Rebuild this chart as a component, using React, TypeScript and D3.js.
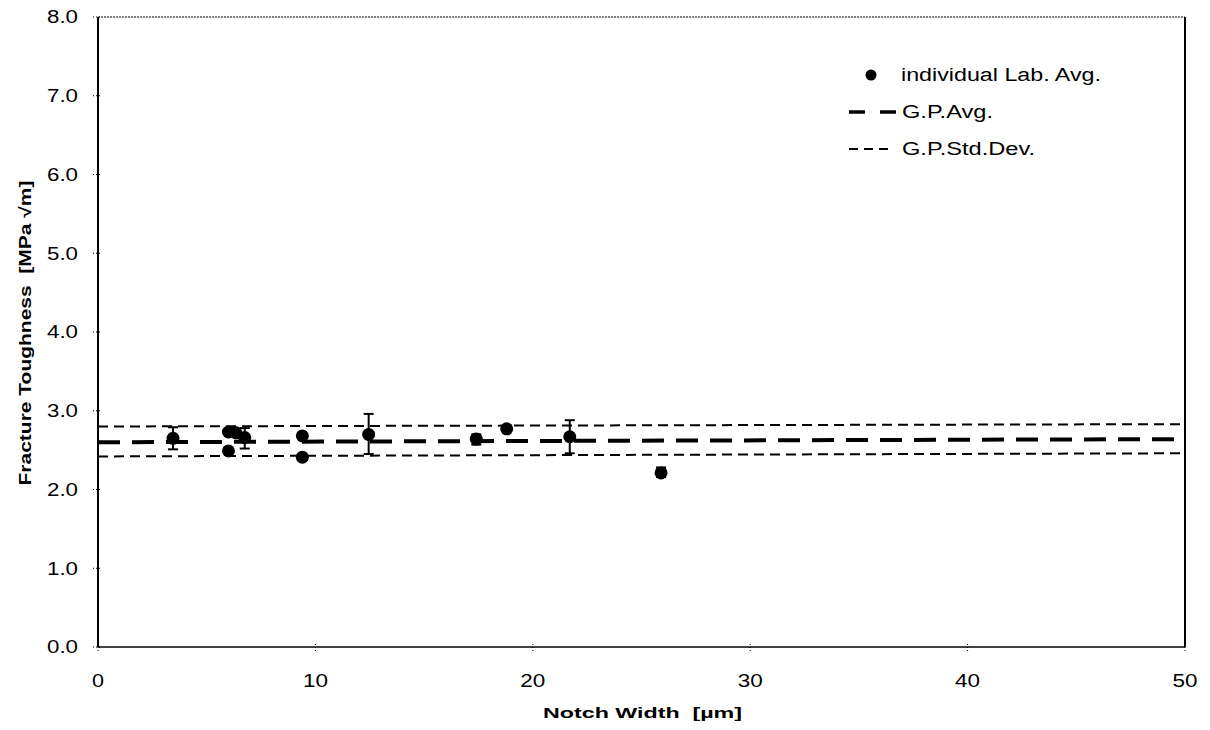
import React from "react";
import * as d3 from "d3";

const notchWidth = [3.45, 6.0, 6.0, 6.35, 6.75, 9.4, 9.4, 12.45, 17.4, 18.8, 21.7, 25.9];
const labAvg = [2.65, 2.73, 2.49, 2.72, 2.66, 2.68, 2.41, 2.70, 2.64, 2.77, 2.67, 2.21];
const errLow = [2.51, 2.73, 2.49, 2.72, 2.52, 2.68, 2.41, 2.45, 2.57, 2.77, 2.46, 2.16];
const errHigh = [2.79, 2.73, 2.49, 2.72, 2.78, 2.68, 2.41, 2.96, 2.70, 2.77, 2.88, 2.28];
const gpAvg = [[0, 2.60], [50, 2.64]];
const gpUpper = [[0, 2.80], [50, 2.83]];
const gpLower = [[0, 2.42], [50, 2.46]];
const yTicks = [0, 1, 2, 3, 4, 5, 6, 7, 8];
const xTicks = [0, 10, 20, 30, 40, 50];
const legendLabels = ["individual Lab. Avg.", "G.P.Avg.", "G.P.Std.Dev."];

export default function App() {
  const W = 1210, H = 730;
  const x = d3.scaleLinear().domain([0, 50]).range([98, 1185]);
  const y = d3.scaleLinear().domain([0, 8]).range([647, 17]);
  const line = d3.line<number[]>().x(d => x(d[0])).y(d => y(d[1]));
  const font = "Arial, 'Liberation Sans', Helvetica, sans-serif";
  const hasErr = notchWidth.map((_, i) => errHigh[i] - errLow[i] > 0.01);
  const pre = { whiteSpace: "pre" as const };
  return (
    <svg width={W} height={H} style={{ position: "absolute", left: 0, top: 0, background: "#fff" }} fontFamily={font}>
      <rect x={0} y={0} width={W} height={H} fill="#fff" />
      {/* frame */}
      <line x1={x(0)} x2={x(50)} y1={y(8)} y2={y(8)} stroke="#000" strokeWidth={1} strokeDasharray="2 1" />
      <line x1={x(0)} x2={x(50)} y1={y(0)} y2={y(0)} stroke="#000" strokeWidth={1.5} />
      <line x1={x(0)} x2={x(0)} y1={y(8)} y2={y(0)} stroke="#000" strokeWidth={2} />
      <line x1={x(50)} x2={x(50)} y1={y(8)} y2={y(0)} stroke="#000" strokeWidth={2} />
      {/* y ticks */}
      {yTicks.map(t => (
        <g key={"y" + t}>
          <line x1={x(0) - 5} x2={x(0) + 3} y1={y(t)} y2={y(t)} stroke="#000" strokeWidth={1} strokeDasharray="1 2" />
          <text x={78} y={y(t)} dy="0.36em" textAnchor="end" fontSize={18} textLength={31} lengthAdjust="spacingAndGlyphs" fill="#000">{t.toFixed(1)}</text>
        </g>
      ))}
      {/* x ticks */}
      {xTicks.map(t => (
        <g key={"x" + t}>
          <line x1={x(t)} x2={x(t)} y1={y(0) - 3} y2={y(0) + 4} stroke="#000" strokeWidth={1} strokeDasharray="1 2" />
          <text x={x(t)} y={y(0) + 40} textAnchor="middle" fontSize={19} textLength={t === 0 ? 12 : 25} lengthAdjust="spacingAndGlyphs" fill="#000">{t}</text>
        </g>
      ))}
      {/* axis titles */}
      <text x={642.5} y={718} textAnchor="middle" fontSize={15.5} fontWeight="bold" fill="#000" textLength={199} lengthAdjust="spacingAndGlyphs" style={pre}>Notch Width  [µm]</text>
      <text transform={`translate(31,${y(4) + 1}) rotate(-90)`} textAnchor="middle" fontSize={16.5} fontWeight="bold" fill="#000" textLength={305} lengthAdjust="spacingAndGlyphs" style={pre}>Fracture Toughness  [MPa √m]</text>
      {/* reference lines */}
      <path d={line(gpUpper) || ""} fill="none" stroke="#000" strokeWidth={2} strokeDasharray="10 6" />
      <path d={line(gpLower) || ""} fill="none" stroke="#000" strokeWidth={2} strokeDasharray="10 6" />
      <path d={line(gpAvg) || ""} fill="none" stroke="#000" strokeWidth={4} strokeDasharray="22 12" />
      {/* error bars */}
      {notchWidth.map((v, i) => hasErr[i] ? (
        <g key={"e" + i} stroke="#000" strokeWidth={2}>
          <line x1={x(v)} x2={x(v)} y1={y(errLow[i])} y2={y(errHigh[i])} />
          <line x1={x(v) - 5} x2={x(v) + 5} y1={y(errLow[i])} y2={y(errLow[i])} />
          <line x1={x(v) - 5} x2={x(v) + 5} y1={y(errHigh[i])} y2={y(errHigh[i])} />
        </g>
      ) : null)}
      {/* points */}
      {notchWidth.map((v, i) => (
        <circle key={"p" + i} cx={x(v)} cy={y(labAvg[i])} r={6.5} fill="#000" />
      ))}
      {/* legend */}
      <circle cx={871} cy={75} r={5.5} fill="#000" />
      <text x={901} y={75} dy="0.36em" fontSize={18} fill="#000" textLength={200} lengthAdjust="spacingAndGlyphs">{legendLabels[0]}</text>
      <line x1={849} x2={896} y1={112} y2={112} stroke="#000" strokeWidth={3.5} strokeDasharray="16 15" />
      <text x={902} y={112} dy="0.36em" fontSize={18} fill="#000" textLength={91} lengthAdjust="spacingAndGlyphs">{legendLabels[1]}</text>
      <line x1={849} x2={892} y1={149} y2={149} stroke="#000" strokeWidth={2} strokeDasharray="9 6" />
      <text x={902} y={149} dy="0.36em" fontSize={18} fill="#000" textLength={133} lengthAdjust="spacingAndGlyphs">{legendLabels[2]}</text>
    </svg>
  );
}
